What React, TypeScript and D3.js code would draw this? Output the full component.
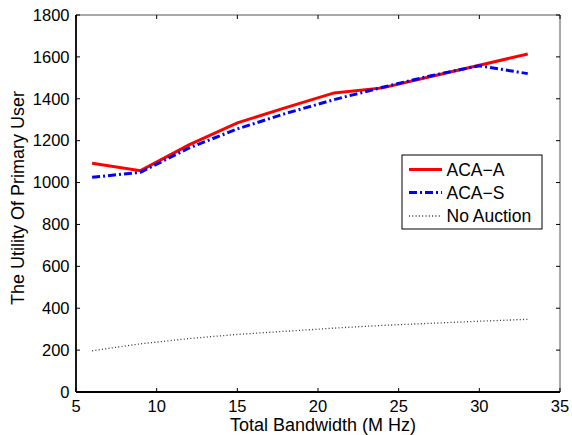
import React from "react";
import * as d3 from "d3";

const bandwidth = [6, 9, 12, 15, 18, 21, 24, 27, 30, 33];
const acaA = [1092, 1057, 1180, 1285, 1358, 1428, 1452, 1506, 1560, 1614];
const acaS = [1025, 1049, 1165, 1256, 1330, 1396, 1455, 1510, 1558, 1520];
const noAuction = [197, 230, 255, 275, 290, 305, 318, 328, 338, 347];
const xTicks = [5, 10, 15, 20, 25, 30, 35];
const yTicks = [0, 200, 400, 600, 800, 1000, 1200, 1400, 1600, 1800];
const seriesNames = ["ACA\u2212A", "ACA\u2212S", "No Auction"];

const W = 572, H = 435;
const L = 76, R = 560, T = 15, B = 392;
const FONT = "'Liberation Sans', Arial, Helvetica, sans-serif";

export default function App() {
  const x = d3.scaleLinear().domain([5, 35]).range([L, R]);
  const y = d3.scaleLinear().domain([0, 1800]).range([B, T]);
  const line = (vals: number[]) =>
    d3.line<number>().x((_, i) => x(bandwidth[i])).y((d) => y(d))(vals) as string;

  const styles = [
    { stroke: "#ff0000", width: 3, dash: undefined as string | undefined },
    { stroke: "#0000ff", width: 3, dash: "8,3,2,3" },
    { stroke: "#333333", width: 1.3, dash: "1,2.3" },
  ];
  const data = [acaA, acaS, noAuction];

  const lg = { x: 402, y: 155, w: 140, h: 74 };
  const rowY = [169.5, 192.5, 216];

  return (
    <svg width={W} height={H} style={{ position: "absolute", left: 0, top: 0, background: "#fff" }} fontFamily={FONT}>
      <rect x={0} y={0} width={W} height={H} fill="#fff" />
      {/* box */}
      <line x1={L} x2={R} y1={T} y2={T} stroke="#555" strokeWidth={1} />
      <line x1={R} x2={R} y1={T} y2={B} stroke="#555" strokeWidth={1} />
      {/* ticks */}
      {xTicks.map((t) => (
        <g key={"x" + t}>
          <line x1={x(t)} x2={x(t)} y1={B} y2={B - 4} stroke="#000" />
          <line x1={x(t)} x2={x(t)} y1={T} y2={T + 4} stroke="#000" />
          <text x={x(t)} y={412} textAnchor="middle" fontSize={16.5} fill="#000">{t}</text>
        </g>
      ))}
      {yTicks.map((t) => (
        <g key={"y" + t}>
          <line x1={L} x2={L + 4} y1={y(t)} y2={y(t)} stroke="#000" />
          <line x1={R} x2={R - 4} y1={y(t)} y2={y(t)} stroke="#000" />
          <text x={69.5} y={y(t) + 5.8} textAnchor="end" fontSize={16.5} fill="#000">{t}</text>
        </g>
      ))}
      <line x1={L} x2={R} y1={B} y2={B} stroke="#000" strokeWidth={1.8} />
      <line x1={L} x2={L} y1={T} y2={B} stroke="#000" strokeWidth={1.8} />

      {data.map((vals, i) => (
        <path key={i} d={line(vals)} fill="none" stroke={styles[i].stroke}
          strokeWidth={styles[i].width} strokeDasharray={styles[i].dash} />
      ))}

      {/* legend */}
      <rect x={lg.x} y={lg.y} width={lg.w} height={lg.h} fill="#fff" stroke="#000" strokeWidth={1} />
      {seriesNames.map((n, i) => (
        <g key={n}>
          <line x1={409} x2={442} y1={rowY[i]} y2={rowY[i]} stroke={styles[i].stroke}
            strokeWidth={styles[i].width} strokeDasharray={styles[i].dash} />
          <text x={446.5} y={rowY[i] + 6.3} fontSize={17.5} fill="#000">{n}</text>
        </g>
      ))}

      <text x={323} y={431} textAnchor="middle" fontSize={18} fill="#000">Total Bandwidth (M Hz)</text>
      <text transform={`translate(24,198) rotate(-90)`} textAnchor="middle" fontSize={18} fill="#000">
        The Utility Of Primary User
      </text>
    </svg>
  );
}
